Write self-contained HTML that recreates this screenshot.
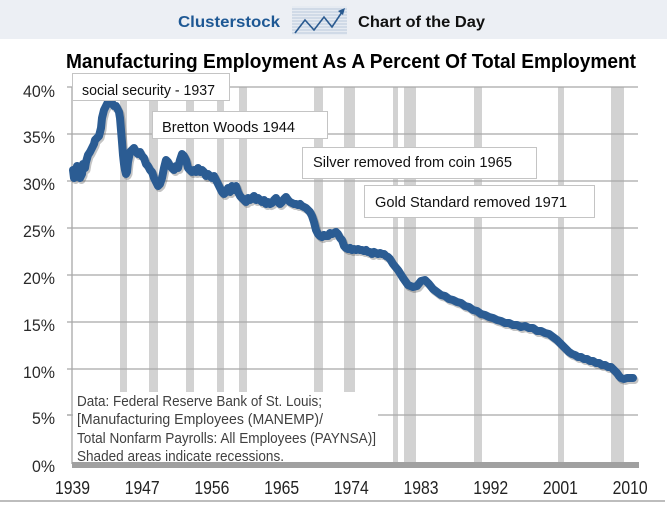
<!DOCTYPE html>
<html><head><meta charset="utf-8"><style>
html,body{margin:0;padding:0;background:#fff;}
svg{display:block;}
text{font-family:"Liberation Sans",sans-serif;}
</style></head><body>
<svg width="667" height="506" viewBox="0 0 667 506" xmlns="http://www.w3.org/2000/svg">
<rect x="0" y="0" width="667" height="506" fill="#ffffff"/>
<!-- header band -->
<rect x="0" y="0" width="667" height="39" fill="#eceff4"/>
<text x="178" y="27" font-size="16" font-weight="bold" fill="#1e5894" textLength="102" lengthAdjust="spacingAndGlyphs">Clusterstock</text>
<g>
<rect x="292" y="6" width="55" height="29" fill="#e6ebf2"/>
<g stroke="#b9c8dc" stroke-width="1">
<line x1="292" y1="9" x2="347" y2="9"/><line x1="292" y1="12" x2="347" y2="12"/><line x1="292" y1="15" x2="347" y2="15"/><line x1="292" y1="18" x2="347" y2="18"/><line x1="292" y1="21" x2="347" y2="21"/><line x1="292" y1="24" x2="347" y2="24"/><line x1="292" y1="27" x2="347" y2="27"/><line x1="292" y1="30" x2="347" y2="30"/><line x1="292" y1="33" x2="347" y2="33"/>
</g>
<polyline points="295,33 305,20 314,30 324,17 332,27 342,12" fill="none" stroke="#2a5a90" stroke-width="1.6"/>
<polygon points="345,8 338,11 343,15" fill="#2a5a90"/>
</g>
<text x="358" y="27" font-size="16" font-weight="bold" fill="#111" textLength="127" lengthAdjust="spacingAndGlyphs">Chart of the Day</text>

<!-- title -->
<text x="66" y="68" font-size="20" font-weight="bold" fill="#000" textLength="570" lengthAdjust="spacingAndGlyphs">Manufacturing Employment As A Percent Of Total Employment</text>

<!-- recession bars -->
<g fill="#d2d2d2">
<rect x="120" y="87" width="7" height="305"/>
<rect x="149" y="87" width="9" height="305"/>
<rect x="186" y="87" width="8" height="305"/>
<rect x="217" y="87" width="7" height="305"/>
<rect x="239" y="87" width="8" height="305"/>
<rect x="314" y="87" width="9" height="305"/>
<rect x="344" y="87" width="11" height="305"/>
<rect x="393" y="87" width="5" height="375"/>
<rect x="404" y="87" width="12" height="375"/>
<rect x="474" y="87" width="8" height="375"/>
<rect x="558" y="87" width="6" height="375"/>
<rect x="611" y="87" width="13" height="375"/>
</g>

<!-- gridlines -->
<g stroke="#a8a8a8" stroke-width="1.3">
<line x1="67" y1="87" x2="638" y2="87"/>
<line x1="67" y1="134" x2="638" y2="134"/>
<line x1="67" y1="181" x2="638" y2="181"/>
<line x1="67" y1="228" x2="638" y2="228"/>
<line x1="67" y1="275" x2="638" y2="275"/>
<line x1="67" y1="322" x2="638" y2="322"/>
<line x1="67" y1="369" x2="638" y2="369"/>
<line x1="67" y1="415" x2="638" y2="415"/>
<line x1="72" y1="87" x2="72" y2="464"/>
</g>

<!-- data text box -->
<rect x="73" y="393" width="305" height="69" fill="#ffffff"/>
<line x1="67" y1="415" x2="72" y2="415" stroke="#a8a8a8" stroke-width="1.3"/>
<g font-size="15" fill="#404040">
<text x="77" y="406" textLength="245" lengthAdjust="spacingAndGlyphs">Data: Federal Reserve Bank of St. Louis;</text>
<text x="77" y="424" textLength="246" lengthAdjust="spacingAndGlyphs">[Manufacturing Employees (MANEMP)/</text>
<text x="77" y="443" textLength="299" lengthAdjust="spacingAndGlyphs">Total Nonfarm Payrolls: All Employees (PAYNSA)]</text>
<text x="77" y="461" textLength="207" lengthAdjust="spacingAndGlyphs">Shaded areas indicate recessions.</text>
</g>

<!-- x axis bar -->
<rect x="72" y="462" width="567" height="6" fill="#a0a0a0"/>
<line x1="0" y1="501" x2="665" y2="501" stroke="#bdbdbd" stroke-width="2"/>

<!-- y labels -->
<g font-size="17" fill="#2a2a2a" text-anchor="end">
<text x="55" y="97" textLength="32" lengthAdjust="spacingAndGlyphs">40%</text>
<text x="55" y="143" textLength="32" lengthAdjust="spacingAndGlyphs">35%</text>
<text x="55" y="190" textLength="32" lengthAdjust="spacingAndGlyphs">30%</text>
<text x="55" y="237" textLength="32" lengthAdjust="spacingAndGlyphs">25%</text>
<text x="55" y="284" textLength="32" lengthAdjust="spacingAndGlyphs">20%</text>
<text x="55" y="331" textLength="32" lengthAdjust="spacingAndGlyphs">15%</text>
<text x="55" y="378" textLength="32" lengthAdjust="spacingAndGlyphs">10%</text>
<text x="55" y="424" textLength="23" lengthAdjust="spacingAndGlyphs">5%</text>
<text x="55" y="472" textLength="23" lengthAdjust="spacingAndGlyphs">0%</text>
</g>

<!-- x labels -->
<g font-size="18" fill="#222" text-anchor="middle">
<text x="72.5" y="494" textLength="35" lengthAdjust="spacingAndGlyphs">1939</text>
<text x="142.2" y="494" textLength="35" lengthAdjust="spacingAndGlyphs">1947</text>
<text x="211.9" y="494" textLength="35" lengthAdjust="spacingAndGlyphs">1956</text>
<text x="281.6" y="494" textLength="35" lengthAdjust="spacingAndGlyphs">1965</text>
<text x="351.3" y="494" textLength="35" lengthAdjust="spacingAndGlyphs">1974</text>
<text x="421" y="494" textLength="35" lengthAdjust="spacingAndGlyphs">1983</text>
<text x="490.7" y="494" textLength="35" lengthAdjust="spacingAndGlyphs">1992</text>
<text x="560.4" y="494" textLength="35" lengthAdjust="spacingAndGlyphs">2001</text>
<text x="630.1" y="494" textLength="35" lengthAdjust="spacingAndGlyphs">2010</text>
</g>

<!-- data series -->
<g fill="none" stroke-linejoin="round" stroke-linecap="round">
<polyline transform="translate(1.5,2)" stroke="rgba(60,60,60,0.3)" stroke-width="8" points="73,170 74,178 76,174 77,166 79,172 80,178 82,174 83,164 85,168 86,162 88,155 90,152 92,148 94,144 95,140 97,138 99,136 101,128 102,118 104,110 106,106 108,102 110,101 112,103 114,106 116,106 118,110 119,112 120,118 121,130 122,142 123,155 124,164 125,170 126,174 127,172 128,162 130,152 132,150 134,148 136,152 138,154 140,152 142,156 144,158 146,164 148,166 150,170 152,172 154,178 156,182 158,186 160,184 162,178 164,168 166,160 168,162 170,166 172,168 174,170 176,166 178,168 180,160 182,154 184,156 186,160 188,168 190,170 192,172 194,170 196,172 198,168 200,172 202,170 204,172 206,176 208,174 210,176 212,178 214,176 216,180 218,184 220,188 222,192 224,194 226,192 228,188 230,192 232,186 234,190 236,186 238,192 240,196 242,198 244,200 246,202 248,198 250,200 252,198 254,196 256,200 258,198 260,200 262,202 264,200 266,204 268,202 270,204 272,203 274,200 276,198 278,202 280,204 282,202 284,199 286,197 288,200 290,202 292,203 294,204 296,204 298,205 300,204 302,206 304,207 306,208 308,210 310,212 312,216 314,222 316,230 318,234 320,236 322,237 324,235 326,236 328,236 330,233 332,234 334,233 336,232 338,234 340,238 342,240 344,246 346,248 348,249 350,248 352,250 354,249 356,250 358,249 360,250 362,250 364,251 366,250 368,252 370,252 372,254 374,252 376,253 378,254 380,253 382,254 384,254 386,256 388,257 390,259 393,264 398,270 403,278 408,285 413,287 417,286 421,281 425,280 429,284 433,289 437,292 441,295 445,296 449,299 453,300 457,302 461,303 465,306 469,307 473,310 477,311 481,314 485,315 489,317 493,318 497,320 501,321 505,323 509,323 513,325 517,325 521,327 525,326 529,328 533,328 537,331 541,331 545,333 549,334 553,337 557,340 560,343 563,346 566,349 569,352 572,354 575,355 578,357 581,357 584,359 587,359 590,361 593,361 596,363 599,363 602,365 605,365 608,367 611,367 614,370 617,373 619,376 621,378 624,379 627,378 631,378 633,378"/>
<polyline stroke="#2b5c93" stroke-width="8" points="73,170 74,178 76,174 77,166 79,172 80,178 82,174 83,164 85,168 86,162 88,155 90,152 92,148 94,144 95,140 97,138 99,136 101,128 102,118 104,110 106,106 108,102 110,101 112,103 114,106 116,106 118,110 119,112 120,118 121,130 122,142 123,155 124,164 125,170 126,174 127,172 128,162 130,152 132,150 134,148 136,152 138,154 140,152 142,156 144,158 146,164 148,166 150,170 152,172 154,178 156,182 158,186 160,184 162,178 164,168 166,160 168,162 170,166 172,168 174,170 176,166 178,168 180,160 182,154 184,156 186,160 188,168 190,170 192,172 194,170 196,172 198,168 200,172 202,170 204,172 206,176 208,174 210,176 212,178 214,176 216,180 218,184 220,188 222,192 224,194 226,192 228,188 230,192 232,186 234,190 236,186 238,192 240,196 242,198 244,200 246,202 248,198 250,200 252,198 254,196 256,200 258,198 260,200 262,202 264,200 266,204 268,202 270,204 272,203 274,200 276,198 278,202 280,204 282,202 284,199 286,197 288,200 290,202 292,203 294,204 296,204 298,205 300,204 302,206 304,207 306,208 308,210 310,212 312,216 314,222 316,230 318,234 320,236 322,237 324,235 326,236 328,236 330,233 332,234 334,233 336,232 338,234 340,238 342,240 344,246 346,248 348,249 350,248 352,250 354,249 356,250 358,249 360,250 362,250 364,251 366,250 368,252 370,252 372,254 374,252 376,253 378,254 380,253 382,254 384,254 386,256 388,257 390,259 393,264 398,270 403,278 408,285 413,287 417,286 421,281 425,280 429,284 433,289 437,292 441,295 445,296 449,299 453,300 457,302 461,303 465,306 469,307 473,310 477,311 481,314 485,315 489,317 493,318 497,320 501,321 505,323 509,323 513,325 517,325 521,327 525,326 529,328 533,328 537,331 541,331 545,333 549,334 553,337 557,340 560,343 563,346 566,349 569,352 572,354 575,355 578,357 581,357 584,359 587,359 590,361 593,361 596,363 599,363 602,365 605,365 608,367 611,367 614,370 617,373 619,376 621,378 624,379 627,378 631,378 633,378"/>
</g>

<!-- annotation boxes -->
<g fill="#ffffff" stroke="#c4c4c4" stroke-width="1">
<rect x="72.5" y="73.5" width="157" height="27"/>
<rect x="152.5" y="111.5" width="175" height="27"/>
<rect x="302.5" y="147.5" width="234" height="31"/>
<rect x="364.5" y="185.5" width="230" height="32"/>
</g>
<g font-size="15" fill="#111">
<text x="82" y="95" textLength="133" lengthAdjust="spacingAndGlyphs">social security - 1937</text>
<text x="162" y="132" textLength="133" lengthAdjust="spacingAndGlyphs">Bretton Woods 1944</text>
<text x="313" y="167" textLength="199" lengthAdjust="spacingAndGlyphs">Silver removed from coin 1965</text>
<text x="375" y="207" textLength="192" lengthAdjust="spacingAndGlyphs">Gold Standard removed 1971</text>
</g>
</svg>
</body></html>
